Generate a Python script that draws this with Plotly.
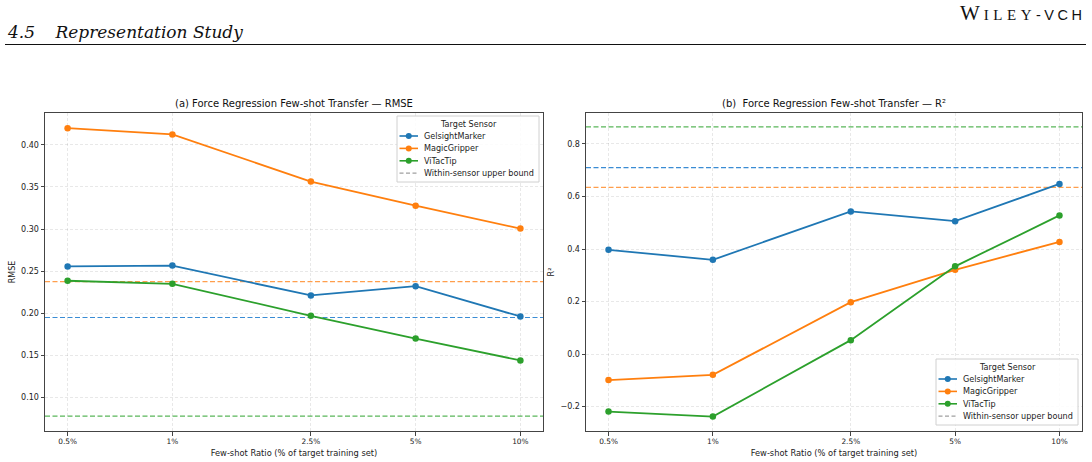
import plotly.graph_objects as go

ratios = [0.5, 1, 2.5, 5, 10]
ratio_labels = ["0.5%", "1%", "2.5%", "5%", "10%"]
sensors = ["GelsightMarker", "MagicGripper", "ViTacTip"]
colors = ["#1f77b4", "#ff7f0e", "#2ca02c"]
bound_colors = ["rgb(58,140,212)", "rgb(255,158,76)", "rgb(90,182,90)"]

rmse_gelsight = [0.2555, 0.2565, 0.221, 0.232, 0.196]
rmse_magic = [0.420, 0.4125, 0.3565, 0.3278, 0.3005]
rmse_vitac = [0.2385, 0.2348, 0.1968, 0.1697, 0.1437]
rmse_bound = [0.1948, 0.2375, 0.0774]

r2_gelsight = [0.397, 0.359, 0.543, 0.506, 0.648]
r2_magic = [-0.099, -0.079, 0.1975, 0.321, 0.427]
r2_vitac = [-0.219, -0.238, 0.053, 0.334, 0.528]
r2_bound = [0.7098, 0.635, 0.865]

rmse_series = [rmse_gelsight, rmse_magic, rmse_vitac]
r2_series = [r2_gelsight, r2_magic, r2_vitac]

W, H = 1092, 462
def px(x): return x / W
def py(y): return 1 - y / H

FONT = "DejaVu Sans"
fig = go.Figure()

for i, name in enumerate(sensors):
    fig.add_trace(go.Scatter(x=ratios, y=rmse_series[i], name=name, mode="lines+markers",
                             line=dict(color=colors[i], width=1.8), marker=dict(size=6.5, color=colors[i]),
                             xaxis="x", yaxis="y", showlegend=False))
for i, name in enumerate(sensors):
    fig.add_trace(go.Scatter(x=ratios, y=r2_series[i], name=name, mode="lines+markers",
                             line=dict(color=colors[i], width=1.8), marker=dict(size=6.5, color=colors[i]),
                             xaxis="x2", yaxis="y2", showlegend=False))

for i in range(3):
    fig.add_shape(type="line", xref="x domain", yref="y", x0=0, x1=1, y0=rmse_bound[i], y1=rmse_bound[i],
                  line=dict(color=bound_colors[i], width=1.2, dash="5px,2.5px"), layer="below")
    fig.add_shape(type="line", xref="x2 domain", yref="y2", x0=0, x1=1, y0=r2_bound[i], y1=r2_bound[i],
                  line=dict(color=bound_colors[i], width=1.2, dash="5px,2.5px"), layer="below")

ax_common = dict(showline=True, linecolor="#444", linewidth=1, mirror=True,
                 ticks="outside", ticklen=3.5, tickcolor="#444",
                 showgrid=True, gridcolor="rgba(0,0,0,0.09)", griddash="3px,2px", gridwidth=0.8,
                 zeroline=False, tickfont=dict(family=FONT, size=8, color="#222"))

xcommon = dict(ax_common, type="log", range=[-0.366, 1.065], tickvals=ratios, ticktext=ratio_labels,
               tickfont=dict(family=FONT, size=7.4, color="#222"),
               title=dict(text="Few-shot Ratio (% of target training set)",
                          font=dict(family=FONT, size=8.3, color="#222"), standoff=4))

fig.update_layout(
    width=W, height=H, margin=dict(l=0, r=0, t=0, b=0),
    paper_bgcolor="white", plot_bgcolor="white", showlegend=False,
    xaxis=dict(xcommon, domain=[px(45), px(543)], anchor="y"),
    yaxis=dict(ax_common, domain=[py(431), py(113)], anchor="x", range=[0.0598, 0.438],
               tickvals=[0.10, 0.15, 0.20, 0.25, 0.30, 0.35, 0.40], tickformat=".2f",
               title=dict(text="RMSE", font=dict(family=FONT, size=8, color="#222"), standoff=4)),
    xaxis2=dict(xcommon, domain=[px(586), px(1082)], anchor="y2"),
    yaxis2=dict(ax_common, domain=[py(431), py(113)], anchor="x2", range=[-0.293, 0.918],
                tickvals=[-0.2, 0.0, 0.2, 0.4, 0.6, 0.8], ticktext=["\u22120.2", "0.0", "0.2", "0.4", "0.6", "0.8"],
                title=dict(text="R\u00b2", font=dict(family=FONT, size=8, color="#222"), standoff=4)),
)

# manual legends (matplotlib-style compact boxes)
def draw_legend(left, top):
    width, height = 142, 66
    fig.add_shape(type="rect", xref="paper", yref="paper", x0=px(left), x1=px(left + width),
                  y0=py(top + height), y1=py(top), line=dict(color="#d0d0d0", width=1),
                  fillcolor="rgba(255,255,255,0.85)", layer="above")
    fig.add_annotation(text="Target Sensor", xref="paper", yref="paper", x=px(left + width / 2), y=py(top + 8),
                       showarrow=False, xanchor="center", yanchor="middle",
                       font=dict(family=FONT, size=8.1, color="#222"))
    labels = sensors + ["Within-sensor upper bound"]
    for k, lab in enumerate(labels):
        yy = top + 20 + k * 12.4
        x0, x1 = left + 2.5, left + 21
        if k < 3:
            fig.add_shape(type="line", xref="paper", yref="paper", x0=px(x0), x1=px(x1), y0=py(yy), y1=py(yy),
                          line=dict(color=colors[k], width=1.6), layer="above")
            xc = (x0 + x1) / 2
            fig.add_shape(type="circle", xref="paper", yref="paper", x0=px(xc - 3), x1=px(xc + 3),
                          y0=py(yy + 3), y1=py(yy - 3), fillcolor=colors[k],
                          line=dict(color=colors[k], width=0), layer="above")
        else:
            fig.add_shape(type="line", xref="paper", yref="paper", x0=px(x0), x1=px(x1), y0=py(yy), y1=py(yy),
                          line=dict(color="rgb(160,160,160)", width=1.2, dash="4px,2.5px"), layer="above")
        fig.add_annotation(text=lab, xref="paper", yref="paper", x=px(left + 25), y=py(yy),
                           showarrow=False, xanchor="left", yanchor="middle",
                           font=dict(family=FONT, size=8.1, color="#222"))

draw_legend(397, 116)
draw_legend(936, 359)

# subplot titles
fig.add_annotation(text="(a) Force Regression Few-shot Transfer \u2014 RMSE", xref="paper", yref="paper",
                   x=(px(45) + px(543)) / 2, y=py(103), showarrow=False, xanchor="center", yanchor="middle",
                   font=dict(family=FONT, size=10, color="#111"))
fig.add_annotation(text="(b)  Force Regression Few-shot Transfer \u2014 R\u00b2", xref="paper", yref="paper",
                   x=(px(586) + px(1082)) / 2, y=py(103), showarrow=False, xanchor="center", yanchor="middle",
                   font=dict(family=FONT, size=10, color="#111"))

# page header
fig.add_annotation(text="4.5\u2003\u2009Representation Study", xref="paper", yref="paper",
                   x=px(5), y=py(32), showarrow=False, xanchor="left", yanchor="middle",
                   font=dict(family="DejaVu Serif", size=17, color="#111", style="italic"))
fig.add_annotation(text="<span style='font-size:21px;letter-spacing:4px'>W</span>"
                        "<span style='font-size:15px;letter-spacing:4.5px'>ILEY</span>"
                        "<span style='font-family:Liberation Sans;font-size:14.5px;letter-spacing:3.5px'>-VCH</span>",
                   xref="paper", yref="paper", x=px(1087), y=py(13), showarrow=False,
                   xanchor="right", yanchor="middle",
                   font=dict(family="Liberation Serif", size=14, color="#111"))
fig.add_shape(type="line", xref="paper", yref="paper", x0=px(5), x1=px(1086), y0=py(44.5), y1=py(44.5),
              line=dict(color="#111", width=1.2))

fig.write_html("out.html")
